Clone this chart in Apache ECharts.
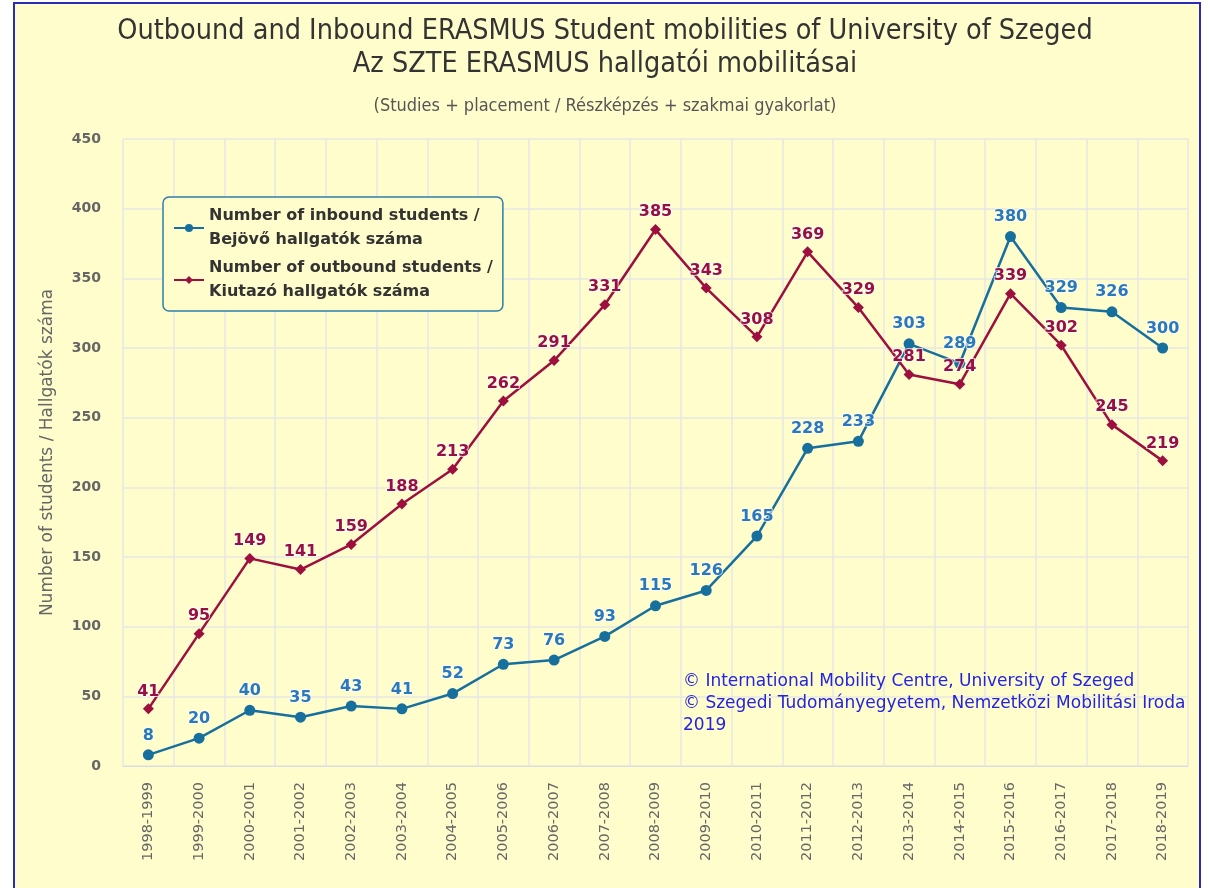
<!DOCTYPE html>
<html><head><meta charset="utf-8">
<script src="https://cdn.jsdelivr.net/npm/echarts@6/dist/echarts.min.js"></script>
<style>html,body{margin:0;padding:0;background:#fff}#c{width:1210px;height:888px}</style>
</head><body><div id="c"></div>
<script>
const categories = ['1998-1999','1999-2000','2000-2001','2001-2002','2002-2003','2003-2004','2004-2005','2005-2006','2006-2007','2007-2008','2008-2009','2009-2010','2010-2011','2011-2012','2012-2013','2013-2014','2014-2015','2015-2016','2016-2017','2017-2018','2018-2019'];
const inbound = [8,20,40,35,43,41,52,73,76,93,115,126,165,228,233,303,289,380,329,326,300];
const outbound = [41,95,149,141,159,188,213,262,291,331,385,343,308,369,329,281,274,339,302,245,219];
const inboundName = 'Number of inbound students /\nBejövő hallgatók száma';
const outboundName = 'Number of outbound students /\nKiutazó hallgatók száma';
const titleText = 'Outbound and Inbound ERASMUS Student mobilities of University of Szeged\nAz SZTE ERASMUS hallgatói mobilitásai';
const subtitleText = '(Studies + placement / Részképzés + szakmai gyakorlat)';
const yAxisName = 'Number of students / Hallgatók száma';
const creditText = '© International Mobility Centre, University of Szeged\n© Szegedi Tudományegyetem, Nemzetközi Mobilitási Iroda\n2019';

const chart = echarts.init(document.getElementById('c'), null, {renderer:'canvas'});
const inColor = '#166f9c', outColor = '#9c0f3e';
chart.setOption({
  backgroundColor: '#ffffff',
  animation: false,
  graphic: [
    {type:'rect', z:-10, shape:{x:14,y:3,width:1186,height:900}, style:{fill:'#fffdcc', stroke:'#2b2bb8', lineWidth:2}},
    {type:'text', left:683, top:671, z:10, style:{text:creditText, fill:'#2323e0', font:'17px "DejaVu Sans"', lineHeight:22}}
  ],
  title: [
    {text:titleText, left:'center', top:10, textStyle:{fontFamily:'"DejaVu Sans Condensed","DejaVu Sans"', fontWeight:'normal', fontSize:28.5, color:'#333', lineHeight:33}},
    {text:subtitleText, left:'center', top:92, textStyle:{fontFamily:'"DejaVu Sans Condensed","DejaVu Sans"', fontWeight:'normal', fontSize:18, color:'#555'}}
  ],
  legend: {
    left:163, top:197, orient:'vertical', padding:[7,10,7,10], itemGap:4,
    backgroundColor:'#fffdcc', borderColor:'#2f7fa8', borderWidth:1.5, borderRadius:6,
    itemWidth:30, itemHeight:10,
    textStyle:{fontFamily:'"DejaVu Sans"', fontWeight:'bold', fontSize:16, color:'#333', lineHeight:24},
    data:[inboundName, outboundName]
  },
  grid: {left:123, right:22, top:139, bottom:122},
  xAxis: {
    type:'category', data:categories, boundaryGap:true,
    axisLine:{lineStyle:{color:'#dcdcdc'}}, axisTick:{show:false},
    splitLine:{show:true, lineStyle:{color:'#e6e6e6', width:1.5}},
    axisLabel:{rotate:90, interval:0, margin:16, color:'#666', fontFamily:'"DejaVu Sans"', fontSize:14.5}
  },
  yAxis: {
    type:'value', min:0, max:450, interval:50,
    name:yAxisName, nameLocation:'middle', nameGap:67,
    nameTextStyle:{fontFamily:'"DejaVu Sans"', fontSize:17, color:'#666'},
    axisLine:{show:false}, axisTick:{show:false},
    splitLine:{lineStyle:{color:'#e6e6e6', width:1.5}},
    axisLabel:{margin:22, color:'#666', fontFamily:'"DejaVu Sans"', fontWeight:'bold', fontSize:14}
  },
  series: [
    {name:inboundName, type:'line', data:inbound, symbol:'circle', symbolSize:11,
      lineStyle:{color:inColor, width:2.5}, itemStyle:{color:inColor},
      label:{show:true, position:'top', distance:6, color:'#2a78bd', fontWeight:'bold', fontSize:16, fontFamily:'"DejaVu Sans"', textBorderColor:'rgba(255,255,255,0.7)', textBorderWidth:2}},
    {name:outboundName, type:'line', data:outbound, symbol:'diamond', symbolSize:11,
      lineStyle:{color:outColor, width:2.5}, itemStyle:{color:outColor},
      label:{show:true, position:'top', distance:4, color:'#961046', fontWeight:'bold', fontSize:16, fontFamily:'"DejaVu Sans"', textBorderColor:'rgba(255,255,255,0.7)', textBorderWidth:2}}
  ]
});
</script></body></html>
